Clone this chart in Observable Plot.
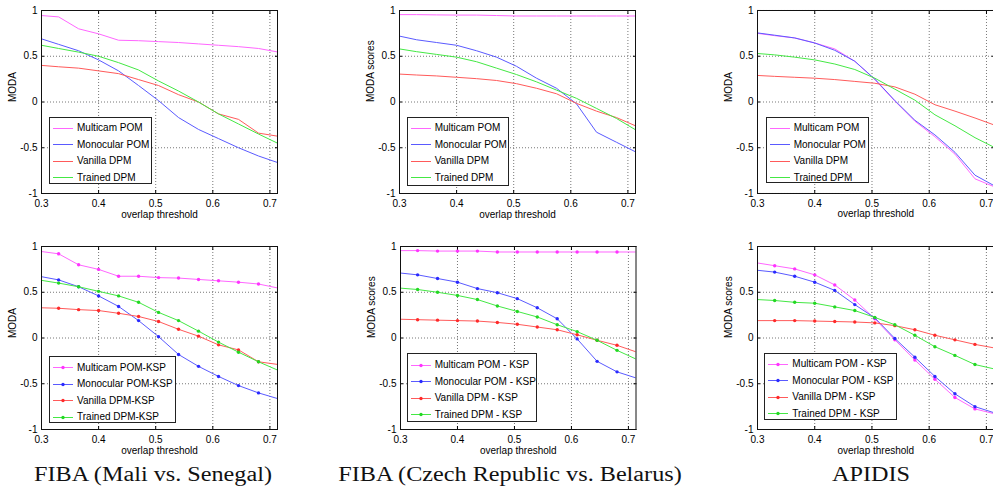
<!DOCTYPE html>
<html>
<head>
<meta charset="utf-8">
<script src="https://cdn.jsdelivr.net/npm/d3@7"></script>
<script src="https://cdn.jsdelivr.net/npm/@observablehq/plot@0.6"></script>
<style>
  html, body { margin: 0; padding: 0; background: #fff; }
  #root { position: relative; width: 993px; height: 490px; overflow: hidden; font-family: "Liberation Sans", Arial, sans-serif; }
  .panel { position: absolute; }
  .legend { position: absolute; box-sizing: border-box; border: 1px solid #222; background: #fff; padding: 2px 0 0 3px; }
  .legend .row { display: flex; align-items: center; height: 16.5px; font-size: 10px; color: #000; white-space: nowrap; }
  .legend svg { margin-right: 4px; flex: none; }
  .caption { position: absolute; top: 464px; font-family: "Liberation Serif", "Times New Roman", serif; font-size: 20px; line-height: 20px; color: #111; white-space: nowrap; transform: translateX(-50%) scaleX(1.21); }
</style>
</head>
<body>
<div id="root"></div>
<script>
// ---------- data ----------
const thresholds = [0.3, 0.33, 0.365, 0.4, 0.435, 0.47, 0.505, 0.54, 0.575, 0.61, 0.645, 0.68, 0.715];
const xTicks = [0.3, 0.4, 0.5, 0.6, 0.7];
const yTicks = [-1, -0.5, 0, 0.5, 1];

const detectorNames = ["Multicam POM", "Monocular POM", "Vanilla DPM", "Trained DPM"];
const kspNamesMali = ["Multicam POM-KSP", "Monocular POM-KSP", "Vanilla DPM-KSP", "Trained DPM-KSP"];
const kspNames = ["Multicam POM - KSP", "Monocular POM - KSP", "Vanilla DPM - KSP", "Trained DPM - KSP"];
const captions = ["FIBA (Mali vs. Senegal)", "FIBA (Czech Republic vs. Belarus)", "APIDIS"];
const yLabels = ["MODA", "MODA scores", "MODA", "MODA", "MODA scores", "MODA scores"];
const xLabel = "overlap threshold";

// FIBA Mali vs Senegal (detection only)
const maliMulticam  = [0.945, 0.93, 0.80, 0.745, 0.675, 0.67, 0.66, 0.65, 0.635, 0.62, 0.605, 0.585, 0.545];
const maliMonocular = [0.69, 0.63, 0.56, 0.46, 0.34, 0.18, 0.015, -0.17, -0.30, -0.40, -0.50, -0.59, -0.665];
const maliVanilla   = [0.40, 0.385, 0.37, 0.34, 0.31, 0.245, 0.18, 0.08, 0.0, -0.13, -0.19, -0.34, -0.375];
const maliTrained   = [0.62, 0.585, 0.545, 0.50, 0.43, 0.35, 0.23, 0.12, 0.0, -0.13, -0.24, -0.35, -0.455];
// FIBA Czech Republic vs Belarus (detection only)
const czMulticam  = [0.955, 0.955, 0.952, 0.95, 0.95, 0.945, 0.94, 0.94, 0.94, 0.94, 0.94, 0.94, 0.94];
const czMonocular = [0.72, 0.68, 0.65, 0.62, 0.56, 0.49, 0.39, 0.26, 0.15, -0.02, -0.33, -0.44, -0.55];
const czVanilla   = [0.305, 0.295, 0.285, 0.27, 0.255, 0.235, 0.20, 0.15, 0.09, -0.015, -0.10, -0.17, -0.265];
const czTrained   = [0.58, 0.55, 0.52, 0.49, 0.44, 0.37, 0.30, 0.22, 0.13, 0.04, -0.07, -0.18, -0.31];
// APIDIS (detection only)
const apMulticam  = [0.75, 0.725, 0.70, 0.645, 0.58, 0.445, 0.245, 0.01, -0.21, -0.38, -0.57, -0.84, -0.93];
const apMonocular = [0.755, 0.73, 0.70, 0.645, 0.565, 0.445, 0.25, 0.015, -0.20, -0.36, -0.55, -0.80, -0.92];
const apVanilla   = [0.29, 0.28, 0.27, 0.26, 0.245, 0.225, 0.205, 0.165, 0.085, -0.03, -0.10, -0.175, -0.255];
const apTrained   = [0.53, 0.515, 0.49, 0.46, 0.415, 0.355, 0.26, 0.14, 0.02, -0.14, -0.26, -0.39, -0.50];
// FIBA Mali vs Senegal + KSP
const maliMulticamKSP  = [0.945, 0.92, 0.80, 0.75, 0.675, 0.675, 0.66, 0.655, 0.64, 0.625, 0.61, 0.59, 0.545];
const maliMonocularKSP = [0.67, 0.635, 0.56, 0.46, 0.345, 0.19, 0.015, -0.18, -0.31, -0.42, -0.52, -0.60, -0.665];
const maliVanillaKSP   = [0.33, 0.325, 0.31, 0.30, 0.27, 0.235, 0.18, 0.095, 0.02, -0.075, -0.13, -0.26, -0.29];
const maliTrainedKSP   = [0.63, 0.60, 0.56, 0.51, 0.46, 0.39, 0.28, 0.19, 0.075, -0.045, -0.155, -0.26, -0.355];
// FIBA Czech Republic vs Belarus + KSP
const czMulticamKSP  = [0.955, 0.955, 0.95, 0.95, 0.95, 0.94, 0.94, 0.94, 0.94, 0.94, 0.94, 0.94, 0.94];
const czMonocularKSP = [0.71, 0.69, 0.65, 0.61, 0.54, 0.495, 0.43, 0.33, 0.21, -0.01, -0.255, -0.37, -0.44];
const czVanillaKSP   = [0.205, 0.20, 0.195, 0.19, 0.185, 0.17, 0.15, 0.12, 0.09, 0.035, -0.025, -0.08, -0.155];
const czTrainedKSP   = [0.545, 0.53, 0.50, 0.465, 0.42, 0.35, 0.29, 0.23, 0.145, 0.07, -0.025, -0.135, -0.235];
// APIDIS + KSP
const apMulticamKSP  = [0.82, 0.79, 0.755, 0.69, 0.58, 0.415, 0.21, -0.02, -0.24, -0.45, -0.65, -0.775, -0.83];
const apMonocularKSP = [0.74, 0.72, 0.675, 0.61, 0.52, 0.365, 0.22, -0.005, -0.21, -0.42, -0.61, -0.75, -0.82];
const apVanillaKSP   = [0.19, 0.19, 0.19, 0.185, 0.18, 0.175, 0.165, 0.135, 0.09, 0.03, -0.02, -0.07, -0.11];
const apTrainedKSP   = [0.42, 0.41, 0.39, 0.38, 0.34, 0.30, 0.225, 0.145, 0.03, -0.095, -0.19, -0.29, -0.34];

// ---------- style / layout ----------
const lineColors = ["#ff66ff", "#5a5aff", "#ff5a5a", "#44e844"];
const dotColors  = ["#ff33ff", "#2a2aff", "#ff2a2a", "#22d822"];
const ML = 40, MT = 10, MR = 4, MB = 40, PH = 183;

const panels = [
  {left: 40.7, top: 10, pw: 236, series: [maliMulticam, maliMonocular, maliVanilla, maliTrained], names: detectorNames, markers: false, legend: [49, 116.7, 102.7, 67.6]},
  {left: 399.3, top: 10, pw: 236, series: [czMulticam, czMonocular, czVanilla, czTrained], names: detectorNames, markers: false, legend: [406.7, 116.7, 102.6, 69]},
  {left: 757, top: 10, pw: 236.6, series: [apMulticam, apMonocular, apVanilla, apTrained], names: detectorNames, markers: false, legend: [765.7, 116.7, 103.3, 66.6]},
  {left: 40.7, top: 246, pw: 236, series: [maliMulticamKSP, maliMonocularKSP, maliVanillaKSP, maliTrainedKSP], names: kspNamesMali, markers: true, legend: [49, 356, 127, 67.3]},
  {left: 400.3, top: 246, pw: 235.5, series: [czMulticamKSP, czMonocularKSP, czVanillaKSP, czTrainedKSP], names: kspNames, markers: true, legend: [406.7, 353.3, 130, 68.4]},
  {left: 757.3, top: 246, pw: 236.5, series: [apMulticamKSP, apMonocularKSP, apVanillaKSP, apTrainedKSP], names: kspNames, markers: true, legend: [764.3, 352.7, 132.4, 67.3]}
];
const captionCenters = [153, 510, 870.5];

const fmt = d => String(d);
const root = document.getElementById("root");

panels.forEach((p, pi) => {
  const marks = [
    Plot.gridX(xTicks, {stroke: "#777", strokeOpacity: 1, strokeDasharray: "1,2"}),
    Plot.gridY(yTicks, {stroke: "#777", strokeOpacity: 1, strokeDasharray: "1,2"}),
    Plot.axisX(xTicks, {anchor: "bottom", tickSize: 0, tickPadding: 6, tickFormat: fmt, label: null, fontSize: 10}),
    Plot.axisY(yTicks, {anchor: "left", tickSize: 0, tickPadding: 4, tickFormat: fmt, label: null, fontSize: 10}),
    Plot.axisX(xTicks, {anchor: "bottom", tickSize: -3, tickFormat: () => "", label: null}),
    Plot.axisX(xTicks, {anchor: "top", tickSize: -3, tickFormat: () => "", label: null}),
    Plot.axisY(yTicks, {anchor: "left", tickSize: -3, tickFormat: () => "", label: null}),
    Plot.axisY(yTicks, {anchor: "right", tickSize: -3, tickFormat: () => "", label: null})
  ];
  p.series.forEach((vals, si) => {
    const rows = vals.map((v, i) => ({x: thresholds[i], y: v, i}));
    marks.push(Plot.line(rows, {x: "x", y: "y", stroke: lineColors[si], strokeWidth: 1, clip: true}));
    if (p.markers) {
      marks.push(Plot.dot(rows.filter(d => d.i > 0 && d.i < thresholds.length - 1), {x: "x", y: "y", r: 1.7, fill: dotColors[si], stroke: "none", clip: true}));
    }
  });
  marks.push(Plot.frame({stroke: "#111"}));
  marks.push(Plot.text([yLabels[pi]], {frameAnchor: "left", dx: -29, rotate: -90, text: d => d, fontSize: 10, fill: "#000"}));
  marks.push(Plot.text([xLabel], {frameAnchor: "bottom", dy: 24, text: d => d, fontSize: 10, fill: "#000"}));

  const chart = Plot.plot({
    width: ML + p.pw + MR, height: MT + PH + MB,
    marginLeft: ML, marginRight: MR, marginTop: MT, marginBottom: MB,
    style: {fontFamily: "'Liberation Sans', Arial, sans-serif", fontSize: "10px", color: "#000", background: "transparent"},
    x: {domain: [0.3, 0.7133]},
    y: {domain: [-1, 1]},
    marks
  });
  chart.classList.add("panel");
  chart.style.left = (p.left - ML) + "px";
  chart.style.top = (p.top - MT) + "px";
  root.appendChild(chart);

  // legend
  const [lx, ly, lw, lh] = p.legend;
  const lg = document.createElement("div");
  lg.className = "legend";
  Object.assign(lg.style, {left: lx + "px", top: ly + "px", width: lw + "px", height: lh + "px"});
  p.names.forEach((name, si) => {
    const row = document.createElement("div");
    row.className = "row";
    const dot = p.markers ? `<circle cx="10" cy="5.5" r="1.7" fill="${dotColors[si]}"/>` : "";
    row.innerHTML = `<svg width="20" height="10"><line x1="0" y1="5.5" x2="20" y2="5.5" stroke="${lineColors[si]}" stroke-width="1"/>${dot}</svg><span>${name}</span>`;
    lg.appendChild(row);
  });
  root.appendChild(lg);
});

captions.forEach((c, i) => {
  const d = document.createElement("div");
  d.className = "caption";
  d.style.left = captionCenters[i] + "px";
  d.textContent = c;
  root.appendChild(d);
});
</script>
</body>
</html>
